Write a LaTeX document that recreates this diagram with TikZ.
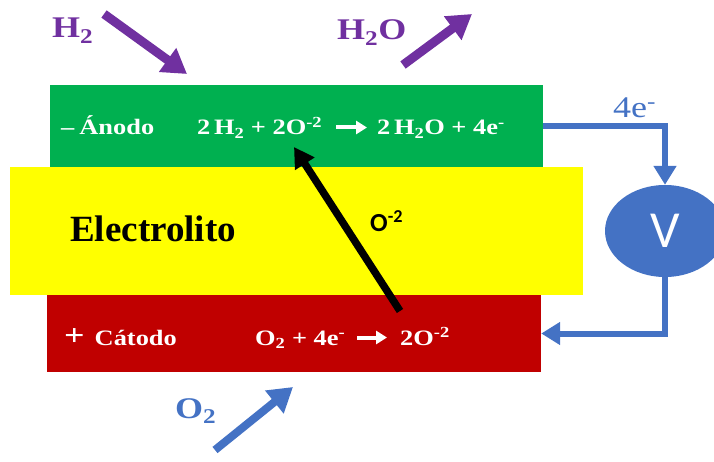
\documentclass[tikz,border=0pt]{standalone}
\usepackage{fontspec}
\setmainfont{Liberation Serif}
\newfontfamily\widefont[FakeStretch=1.2]{Liberation Serif}
\newfontfamily\ionfont{Carlito}
\usetikzlibrary{shapes.geometric,arrows.meta,positioning,calc}
\definecolor{anodogreen}{HTML}{00B050}
\definecolor{catodored}{HTML}{C00000}
\definecolor{electroyellow}{HTML}{FFFF00}
\definecolor{gaspurple}{HTML}{7030A0}
\definecolor{circblue}{HTML}{4472C4}
\tikzset{
    layer/.style={rectangle,inner sep=0pt,draw=none},
    celltext/.style={text=white,font=\widefont\bfseries\fontsize{22}{24}\selectfont,
                     inner sep=0pt,anchor=base west,text height=15pt,text depth=0pt},
    gaslabel/.style={font=\widefont\bfseries\fontsize{30}{34}\selectfont,inner sep=0pt,anchor=base west},
}

\begin{document}
\begin{tikzpicture}[
    x=1pt,y=-1pt,
    gasarrow/.style={-{Triangle[width=28pt,length=24pt]},line width=9pt},
    wire/.style={-{Triangle[width=22pt,length=19pt]},line width=6pt,circblue},
    ionarrow/.style={-{Triangle[width=22pt,length=20pt]},line width=7.5pt,black},
    rxarrow/.style={-{Triangle[width=13pt,length=11pt]},line width=4pt,white},
]
    \useasboundingbox (0,0) rectangle (714,462);

    % ---- capas de la celda ----
    \node[layer,fill=anodogreen,minimum width=493pt,minimum height=82pt] (anodo) at (296.5,126) {};
    \node[layer,fill=electroyellow,minimum width=573pt,minimum height=128pt] (electrolito) at (296.5,231) {};
    \node[layer,fill=catodored,minimum width=494pt,minimum height=77pt] (catodo) at (294,333.5) {};

    % ---- anodo ----
    \node[celltext] (anodolbl) at (61,135) {–\hspace{5pt}Ánodo};
    \node[celltext] (anodolhs) at (197,135) {2\,H\textsubscript{2} + 2O\textsuperscript{-2}};
    \node[celltext] (anodorhs) at (377,135) {2\,H\textsubscript{2}O + 4e\textsuperscript{-}};
    \draw[rxarrow,shorten <=14pt,shorten >=10pt] (anodolhs) -- (anodorhs);

    % ---- catodo ----
    \node[celltext] (catodolbl) at (64,345)
        {{\fontsize{30}{30}\selectfont+}\hspace{10pt}Cátodo};
    \node[celltext] (catodolhs) at (255,345) {O\textsubscript{2} + 4e\textsuperscript{-}};
    \node[celltext] (catodorhs) at (400,345) {2O\textsuperscript{-2}};
    \draw[rxarrow,shorten <=12pt,shorten >=13pt] (catodolhs) -- (catodorhs);

    % ---- electrolito ----
    \node[font=\bfseries\fontsize{37}{40}\selectfont,inner sep=0pt,anchor=base west] (electrotxt)
        at (70,242) {Electrolito};
    \node[font=\ionfont\bfseries\fontsize{26}{28}\selectfont,inner sep=0pt,anchor=base west] (ion)
        at (370,232) {O\textsuperscript{-2}};
    \coordinate (iontail) at (400,311);
    \coordinate (iontip) at (294,147);
    \draw[ionarrow] (iontail) -- (iontip);

    % ---- gases ----
    \node[gaslabel,text=gaspurple] (h2) at (52,38) {H\textsubscript{2}};
    \node[gaslabel,text=gaspurple] (h2o) at (337,40) {H\textsubscript{2}O};
    \node[gaslabel,text=circblue] (o2) at (175,418) {O\textsubscript{2}};
    \coordinate (h2in) at (104,14);
    \coordinate (h2tip) at (187,74);
    \coordinate (h2oout) at (403,65);
    \coordinate (h2otip) at (472,14);
    \coordinate (o2in) at (215,450);
    \coordinate (o2tip) at (293,387);
    \draw[gasarrow,gaspurple] (h2in) -- (h2tip);
    \draw[gasarrow,gaspurple] (h2oout) -- (h2otip);
    \draw[gasarrow,circblue,line width=8pt] (o2in) -- (o2tip);

    % ---- circuito externo ----
    \node[ellipse,fill=circblue,minimum width=120pt,minimum height=92pt,inner sep=0pt,
          text=white,font=\ionfont\fontsize{52}{54}\selectfont] (volt) at (665,231) {V};
    \node[text=circblue,font=\widefont\fontsize{30}{32}\selectfont,inner sep=0pt,anchor=base west]
        (electrones) at (613,118) {4e\textsuperscript{-}};
    \draw[wire] (anodo.east) -| (volt.north);
    \draw[wire] (volt.south) |- (catodo.east);

\end{tikzpicture}
\end{document}
